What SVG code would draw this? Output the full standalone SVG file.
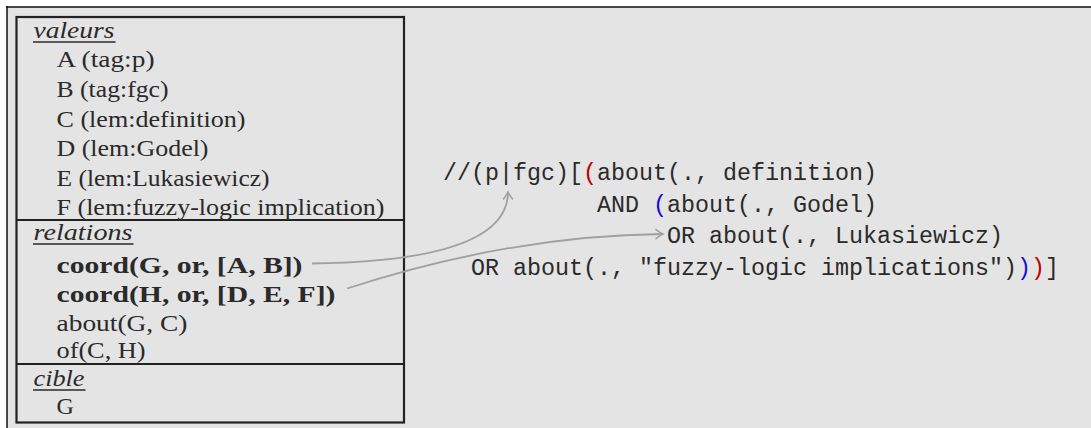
<svg xmlns="http://www.w3.org/2000/svg" width="1091" height="428" viewBox="0 0 1091 428">
<style>
.t{font-family:"Liberation Serif","Times New Roman",serif;font-size:24px;fill:#2a2a2a}
.b{font-weight:bold}
.h{font-style:italic}
.m{font-family:"Liberation Mono","Courier New",monospace;font-size:23.33px;fill:#2a2a2a}
.ln{stroke:#222;stroke-width:2.2;fill:none}
.ul{stroke:#2a2a2a;stroke-width:1.3}
.con{stroke:#a0a0a0;stroke-width:1.8;fill:none;marker-end:url(#ah)}
.red{fill:#c00000}
.blue{fill:#1010d0}
</style>
<defs>
<marker id="ah" markerUnits="userSpaceOnUse" viewBox="-9 -6 11 12" markerWidth="11" markerHeight="12" refX="0" refY="0" orient="auto" overflow="visible">
<path d="M-7,-4.5 Q-2.5,-1 0,0 Q-2.5,1 -7,4.5" stroke="#a0a0a0" stroke-width="1.6" fill="none" stroke-linecap="round"/>
</marker>
</defs>
<rect x="0" y="0" width="1091" height="428" fill="#ffffff"/>
<rect x="7" y="7" width="1084" height="421" fill="#e4e4e4"/>
<line x1="6" y1="7" x2="1091" y2="7" stroke="#111" stroke-width="1.5"/>
<line x1="7" y1="6" x2="7" y2="428" stroke="#111" stroke-width="1.5"/>

<g id="table">
<rect class="ln" x="16.5" y="17" width="387.5" height="405.5"/>
<line class="ln" x1="16.5" y1="220" x2="404" y2="220"/>
<line class="ln" x1="16.5" y1="364" x2="404" y2="364"/>
</g>

<g id="valeurs">
<text class="t h" x="33.5" y="37.5" textLength="81" lengthAdjust="spacingAndGlyphs">valeurs</text>
<line class="ul" x1="33" y1="42" x2="115.5" y2="42"/>
<text class="t" x="56.5" y="67.3" textLength="98" lengthAdjust="spacingAndGlyphs">A (tag:p)</text>
<text class="t" x="56.5" y="96.9" textLength="112" lengthAdjust="spacingAndGlyphs">B (tag:fgc)</text>
<text class="t" x="56.5" y="126.5" textLength="189" lengthAdjust="spacingAndGlyphs">C (lem:definition)</text>
<text class="t" x="56.5" y="156.1" textLength="152" lengthAdjust="spacingAndGlyphs">D (lem:Godel)</text>
<text class="t" x="56.5" y="185.7" textLength="213" lengthAdjust="spacingAndGlyphs">E (lem:Lukasiewicz)</text>
<text class="t" x="56.5" y="215.3" textLength="328" lengthAdjust="spacingAndGlyphs">F (lem:fuzzy-logic implication)</text>
</g>

<g id="relations">
<text class="t h" x="33.5" y="240" textLength="99" lengthAdjust="spacingAndGlyphs">relations</text>
<line class="ul" x1="33" y1="244" x2="133.5" y2="244"/>
<text class="t b" x="56.5" y="273" textLength="246" lengthAdjust="spacingAndGlyphs">coord(G, or, [A, B])</text>
<text class="t b" x="56.5" y="301.5" textLength="279" lengthAdjust="spacingAndGlyphs">coord(H, or, [D, E, F])</text>
<text class="t" x="56.5" y="330.5" textLength="131" lengthAdjust="spacingAndGlyphs">about(G, C)</text>
<text class="t" x="56.5" y="358" textLength="89" lengthAdjust="spacingAndGlyphs">of(C, H)</text>
</g>

<g id="cible">
<text class="t h" x="33.5" y="385.5" textLength="51" lengthAdjust="spacingAndGlyphs">cible</text>
<line class="ul" x1="33" y1="390" x2="85.5" y2="390"/>
<text class="t" x="56.5" y="414">G</text>
</g>

<g id="query" xml:space="preserve">
<text class="m" x="443" y="180">//(p|fgc)[<tspan class="red">(</tspan>about(., definition)</text>
<text class="m" x="597" y="211.5">AND <tspan class="blue">(</tspan>about(., Godel)</text>
<text class="m" x="667" y="243">OR about(., Lukasiewicz)</text>
<text class="m" x="471" y="274.5">OR about(., "fuzzy-logic implications")<tspan class="blue">)</tspan><tspan class="red">)</tspan>]</text>
</g>

<g id="connectors">
<path class="con" d="M312,263.5 C430,262 508,242 508,192"/>
<path class="con" d="M347,288.5 C435,260 545,235 663,234"/>
</g>
</svg>
